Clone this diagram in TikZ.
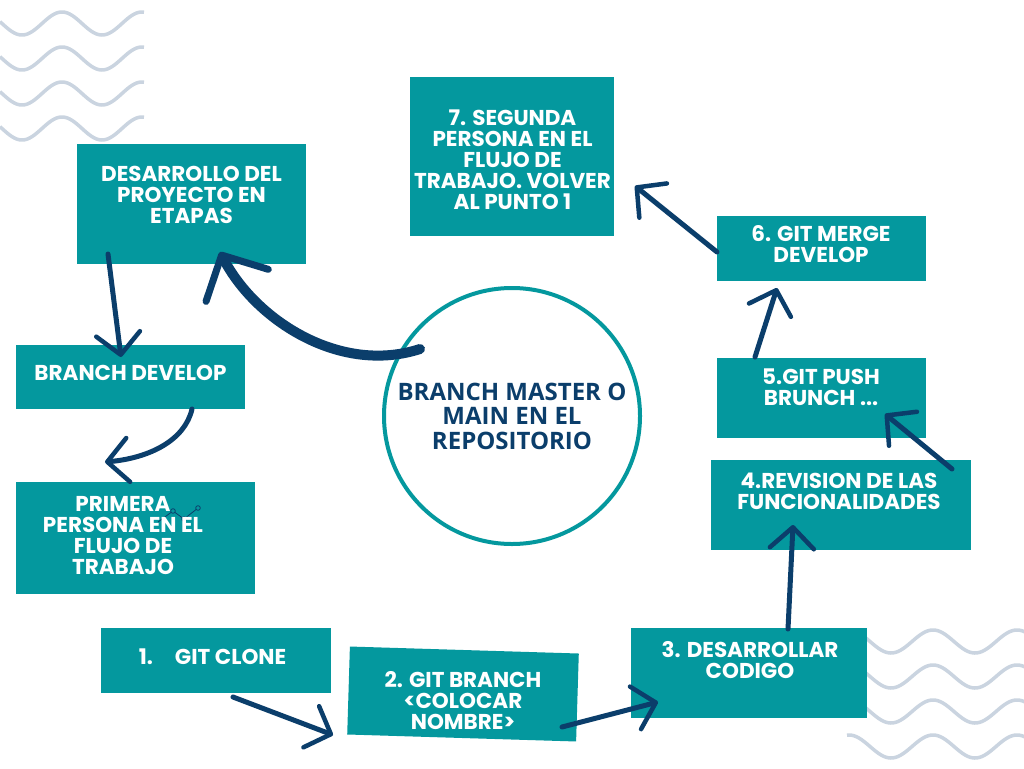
\documentclass[tikz,border=0pt]{standalone}
\usepackage{fontspec}
\setmainfont{Poppins}
\newfontfamily\hubfont{Open Sans}
\usetikzlibrary{calc}
\usetikzlibrary{arrows.meta}
\definecolor{cajacol}{RGB}{4,152,158}
\definecolor{flechacol}{RGB}{11,62,107}
\definecolor{ondacol}{RGB}{202,212,224}
\tikzset{
  caja/.style={fill=cajacol, inner sep=0pt},
  texto/.style={text=white, font=\bfseries\fontsize{21.5}{21}\selectfont, align=center, inner sep=0pt},
  flecha/.style={draw=flechacol, line width=5pt, line cap=round,
    -{Straight Barb[length=21pt,width=44pt,line width=4.5pt,round]}},
  onda/.style={draw=ondacol, line width=3.5pt, smooth},
}
\begin{document}
\begin{tikzpicture}[x=1pt,y=-1pt]
  \useasboundingbox (0,0) rectangle (1024,768);
  \fill[white] (0,0) rectangle (1024,768);
  % ondas
  \foreach \c in {23.5,58.5,93.5,128.5}
    \draw[onda] plot[domain=0:144,samples=90] (\x,{\c+11.5*cos(4.5*(\x-22))});
  \foreach \c in {641.5,676.5,711.5,746.5}
    \draw[onda] plot[domain=847:1030,samples=110] (\x,{\c-11.5*cos(4.2857*(\x-933))});
  % cajas
  \node[caja, minimum width=229pt, minimum height=120pt] (etapas) at (191.5,204) {};
  \node[caja, minimum width=229pt, minimum height=64pt] (develop) at (130.5,377) {};
  \node[caja, minimum width=239pt, minimum height=112pt] (primera) at (135.5,538) {};
  \node[caja, minimum width=230pt, minimum height=65pt] (clone) at (216,660.5) {};
  \node[caja, minimum width=229pt, minimum height=88pt, rotate=-1.75] (rama) at (463,694) {};
  \node[caja, minimum width=236pt, minimum height=90pt] (codigo) at (749,673) {};
  \node[caja, minimum width=260pt, minimum height=90pt] (revision) at (841,505) {};
  \node[caja, minimum width=209pt, minimum height=80pt] (push) at (821.5,398) {};
  \node[caja, minimum width=209pt, minimum height=65pt] (merge) at (821.5,248.5) {};
  \node[caja, minimum width=204pt, minimum height=159pt] (segunda) at (512,156.5) {};
  \node[circle, draw=cajacol, line width=4pt, fill=white, minimum size=256pt, inner sep=0pt,
    text=flechacol, font=\hubfont\bfseries\fontsize{24}{24.5}\selectfont, align=center]
    (hub) at (512,416) {BRANCH MASTER O\\MAIN EN EL\\REPOSITORIO};
  % icono
  \draw[flechacol, line width=0.8pt] (158,522) -- (173,511) -- (184,519) -- (198,508);
  \foreach \p in {(173,511),(184,519),(198,508)}
    \draw[flechacol, line width=0.8pt, fill=cajacol] \p circle (2.3);
  % textos
  \node[texto] (etapas-t) at ($(etapas)+(0,-9)$) {DESARROLLO DEL\\PROYECTO EN\\ETAPAS};
  \node[texto] (develop-t) at ($(develop)+(0,-4)$) {BRANCH DEVELOP};
  \node[texto] (primera-t) at ($(primera)+(-12.5,-2.5)$) {PRIMERA\\PERSONA EN EL\\FLUJO DE\\TRABAJO};
  \node[texto] (clone-t) at ($(clone)+(-3.5,-3.5)$) {1.\hspace{22pt}GIT CLONE};
  \node[texto] (rama-t) at ($(rama)+(0,7)$) {2. GIT BRANCH\\<COLOCAR\\NOMBRE>};
  \node[texto] (codigo-t) at ($(codigo)+(1,-12.5)$) {3. DESARROLLAR\\CODIGO};
  \node[texto] (revision-t) at ($(revision)+(-2,-14)$) {4.REVISION DE LAS\\FUNCIONALIDADES};
  \node[texto] (push-t) at ($(push)+(-0.5,-11)$) {5.GIT PUSH\\BRUNCH ...};
  \node[texto] (merge-t) at ($(merge)+(-0.5,-4)$) {6. GIT MERGE\\DEVELOP};
  \node[texto] (segunda-t) at ($(segunda)+(0.5,3.5)$) {7. SEGUNDA\\PERSONA EN EL\\FLUJO DE\\TRABAJO. VOLVER\\AL PUNTO 1};
  % flechas
  \draw[flecha, line width=10pt, -{Straight Barb[length=34pt,width=70pt,line width=7pt,round]}]
    ($(hub)+(-92,-67)$) .. controls +(-80,26) and +(35,68) .. ($(etapas)+(28.5,48)$);
  \draw[flecha] ($(etapas)+(-83.5,50)$) -- ($(develop)+(-9.5,-20)$);
  \draw[flecha] ($(develop)+(61.5,32)$) .. controls +(-7,31) and +(45,-4) .. ($(primera)+(-30.5,-76)$);
  \draw[flecha] ($(clone)+(17,36.5)$) -- ($(rama)+(-130,41)$);
  \draw[flecha] ($(rama)+(99,33)$) -- ($(codigo)+(-91,29)$);
  \draw[flecha] ($(codigo)+(39,-44)$) -- ($(revision)+(-48,20)$);
  \draw[flecha] ($(revision)+(111,-36)$) -- ($(push)+(63.5,16)$);
  \draw[flecha] ($(push)+(-66.5,-41)$) -- ($(merge)+(-44.5,39.5)$);
  \draw[flecha] ($(merge)+(-104.5,3.5)$) -- ($(segunda)+(123,29.5)$);
\end{tikzpicture}
\end{document}
